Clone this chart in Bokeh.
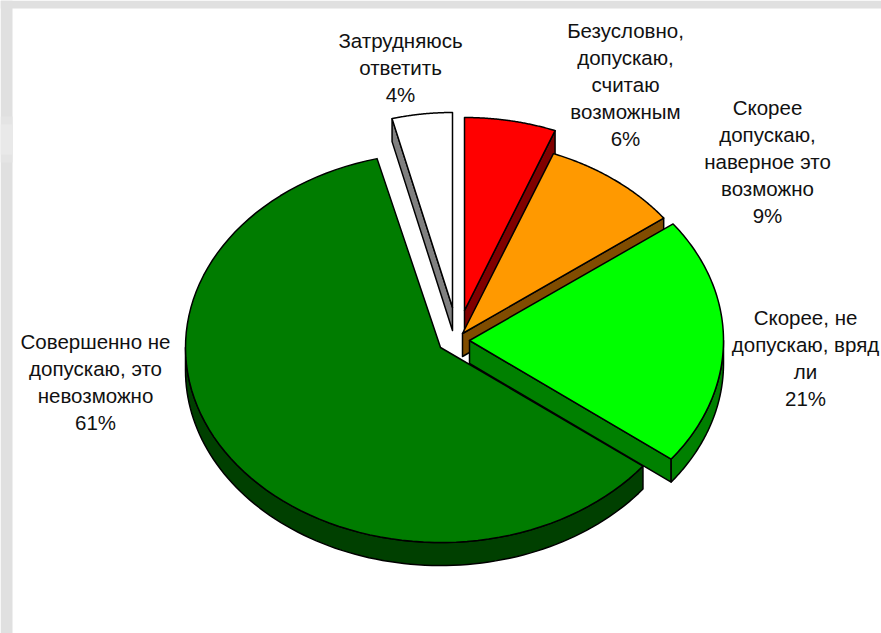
import numpy as np
from bokeh.plotting import figure
from bokeh.models import Range1d, ColumnDataSource
from bokeh.core.properties import value
from bokeh.embed import file_html
from bokeh.resources import INLINE

categories = ["Безусловно, допускаю, считаю возможным",
              "Скорее допускаю, наверное это возможно",
              "Скорее, не допускаю, вряд ли",
              "Совершенно не допускаю, это невозможно",
              "Затрудняюсь ответить"]
percents = [5.9, 8.9, 20.6, 60.6, 4.0]
label_lines = [["Безусловно,", "допускаю,", "считаю", "возможным"],
               ["Скорее", "допускаю,", "наверное это", "возможно"],
               ["Скорее, не", "допускаю, вряд", "ли"],
               ["Совершенно не", "допускаю, это", "невозможно"],
               ["Затрудняюсь", "ответить"]]
top_colors = ["#ff0000", "#ff9900", "#00ff00", "#007c00", "#ffffff"]
side_colors = ["#800000", "#804c00", "#008000", "#004000", "#808080"]

# layout of each exploded slice: apex x, apex y, radius x, radius y
apex_x = [464, 462, 469, 440, 452]
apex_y = [310, 333, 340, 347, 307]
rad_x = [250, 251, 254, 255, 243]
rad_y = [193, 193, 195, 195, 195]
depth = 23
label_x = [625, 767, 805, 95, 400]
label_y = [30, 107, 317, 341, 40]
line_step = 27.1

p = figure(width=881, height=633, x_range=Range1d(0, 881), y_range=Range1d(633, 0),
           output_backend="svg", toolbar_location=None, min_border=0,
           background_fill_color="#ffffff", border_fill_color="#ffffff", outline_line_color=None)
p.axis.visible = False
p.grid.visible = False

# grey frame along the top and left of the slide, with its soft light patch
p.quad(left=[0, 0], right=[881, 12], top=[0, 0], bottom=[8, 633], fill_color="#e0e0e0", line_color=None)
p.quad(left=[0, 0], right=[12, 12], top=[116, 124], bottom=[162, 154],
       fill_color=["#e4e4e4", "#e9e9e9"], line_color=None)

edges = np.cumsum([0] + percents) / sum(percents) * 360.0


def rim(i, a0, a1, n=90):
    t = np.radians(np.linspace(a0, a1, n))
    return apex_x[i] + rad_x[i] * np.sin(t), apex_y[i] - rad_y[i] * np.cos(t)


def draw(xs, ys, color):
    p.patch(xs, ys, fill_color=color, line_color="black", line_width=1.5, line_join="round")


for i in [4, 0, 1, 3, 2]:
    a0, a1 = edges[i], edges[i + 1]
    # radial wall on the edge that faces the viewer
    if i in (0, 1, 2, 4):
        ex, ey = rim(i, a0, a0, 1) if i == 4 else rim(i, a1, a1, 1)
        draw([apex_x[i], ex[0], ex[0], apex_x[i]],
             [apex_y[i], ey[0], ey[0] + depth, apex_y[i] + depth], side_colors[i])
    # outer wall on the front half of the rim
    lo, hi = max(a0, 90), min(a1, 270)
    if hi > lo:
        wx, wy = rim(i, lo, hi)
        draw(np.r_[wx, wx[::-1]], np.r_[wy, wy[::-1] + depth], side_colors[i])
    # top face
    tx, ty = rim(i, a0, a1)
    draw(np.r_[apex_x[i], tx], np.r_[apex_y[i], ty], top_colors[i])

for i, lines in enumerate(label_lines):
    rows = lines + [f"{round(percents[i])}%"]
    src = ColumnDataSource(dict(x=[label_x[i]] * len(rows),
                                y=[label_y[i] + k * line_step for k in range(len(rows))],
                                t=rows))
    p.text("x", "y", text="t", source=src, text_font=value("Liberation Sans"),
           text_font_size="20.5px", text_color="#111111", text_align="center",
           text_baseline="middle")

open("out.html", "w").write(file_html(p, INLINE))
